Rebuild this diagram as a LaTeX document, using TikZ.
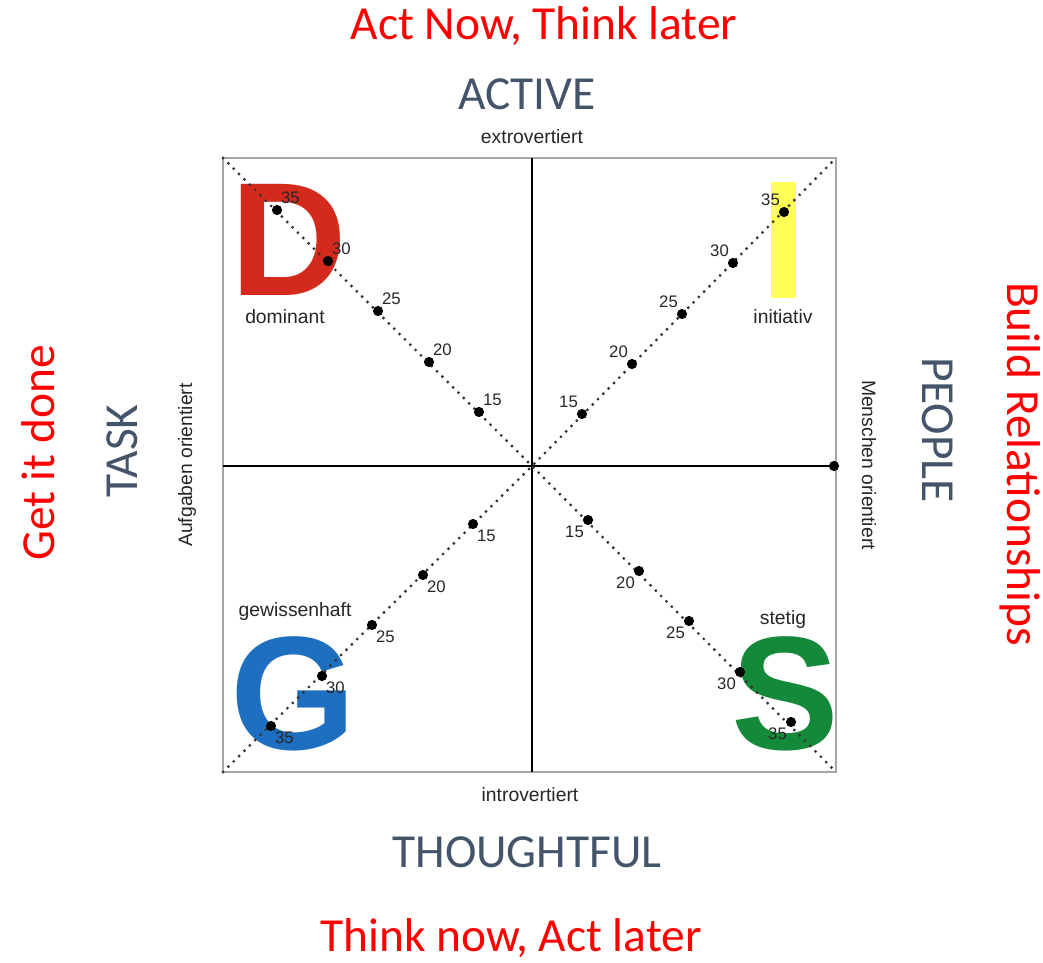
\documentclass[tikz,border=0pt]{standalone}
\usepackage{fontspec}
\setmainfont{Liberation Sans}
\newfontfamily\calib{Carlito}
\definecolor{slate}{HTML}{44546A}
\definecolor{dred}{HTML}{D42A1E}
\definecolor{dyel}{HTML}{FFFF55}
\definecolor{gblue}{HTML}{1F6FC0}
\definecolor{sgreen}{HTML}{15893A}
\begin{document}
\begin{tikzpicture}[x=0.02cm,y=-0.02cm,
  bigred/.style={text=red,font=\calib\fontsize{27}{30}\selectfont,inner sep=0},
  bigslate/.style={text=slate,font=\calib\fontsize{27}{30}\selectfont,inner sep=0},
  small/.style={font=\fontsize{11}{13}\selectfont,inner sep=0,text=black!85},
  num/.style={font=\fontsize{9.5}{11}\selectfont,inner sep=0,text=black!85},
  dotline/.style={draw=black!80,line width=1.8pt,dash pattern=on 0pt off 4.3pt,line cap=round},
  pt/.style={circle,fill=black,inner sep=0,minimum size=5.8pt},
  letter/.style={font=\bfseries\fontsize{92}{92}\selectfont,inner sep=0}]
\useasboundingbox (0,0) rectangle (1043,962);
% frame
\coordinate (TL) at (223,158); \coordinate (TR) at (836,158);
\coordinate (BL) at (223,772); \coordinate (BR) at (836,772);
\coordinate (C) at (532,466);
% letters
\node[letter,text=dred] (D) at (289,240) {D};
\fill[dyel] (771,182) rectangle (796,298);
\node[letter,text=gblue] (G) at (293,694) {G};
\node[letter,text=sgreen] (S) at (785,694) {S};
\draw[black!35,line width=0.7pt] (TL) rectangle (BR);
\coordinate (T) at (532,158); \coordinate (B) at (532,772);
\coordinate (L) at (223,466); \coordinate (R) at (834,466);
\draw[line width=1.3pt] (T) -- (B);
\draw[line width=1.3pt] (L) -- (R);
\node[pt] (R0) at (R) {};
\draw[dotline] (TL) -- (C) -- (BR);
\draw[dotline] (BL) -- (C) -- (TR);
% D dots
\foreach \v/\x/\y in {35/277/210,30/328/261,25/378/311,20/429/362,15/479/412}{
  \node[pt] (d\v) at (\x,\y) {};
  \node[num,anchor=south west] at ([xshift=0pt,yshift=1pt]d\v.north east) {\v};}
\foreach \v/\x/\y in {35/784/212,30/733/263,25/682/314,20/632/364,15/582/414}{
  \node[pt] (i\v) at (\x,\y) {};
  \node[num,anchor=south east] at ([xshift=0pt,yshift=1pt]i\v.north west) {\v};}
\foreach \v/\x/\y in {35/271/726,30/322/676,25/372/625,20/423/575,15/473/524}{
  \node[pt] (g\v) at (\x,\y) {};
  \node[num,anchor=north west] at ([xshift=0pt,yshift=-1pt]g\v.south east) {\v};}
\foreach \v/\x/\y in {35/791/722,30/740/672,25/689/621,20/639/571,15/588/520}{
  \node[pt] (s\v) at (\x,\y) {};
  \node[num,anchor=north east] at ([xshift=0pt,yshift=-1pt]s\v.south west) {\v};}
% small labels
\node[small] (dom) at (285,317) {dominant};
\node[small] (ini) at (783,317) {initiativ};
\node[small] (gew) at (295,611) {gewissenhaft};
\node[small] (ste) at (783,619) {stetig};
\node[small,anchor=base] (ext) at (532,144) {extrovertiert};
\node[small,anchor=base] (intro) at (530,801) {introvertiert};
\node[small,rotate=90] (auf) at (187,465) {Aufgaben orientiert};
\node[small,rotate=-90] (men) at (869,465) {Menschen orientiert};
% big labels
\node[bigslate,anchor=base] (act) at (527,110) {ACTIVE};
\node[bigslate,anchor=base] (tho) at (527,867) {THOUGHTFUL};
\node[bigslate,rotate=90] (task) at (122,451) {TASK};
\node[bigslate,rotate=-90] (peo) at (938,430) {PEOPLE};
\node[bigred,anchor=base] (an) at (544,40) {Act Now, Think later};
\node[bigred,anchor=base] (tn) at (511,951) {Think now, Act later};
\node[bigred,rotate=90] (gid) at (38,453) {Get it done};
\node[bigred,rotate=-90] (br) at (1020,464) {Build Relationships};
\end{tikzpicture}
\end{document}
